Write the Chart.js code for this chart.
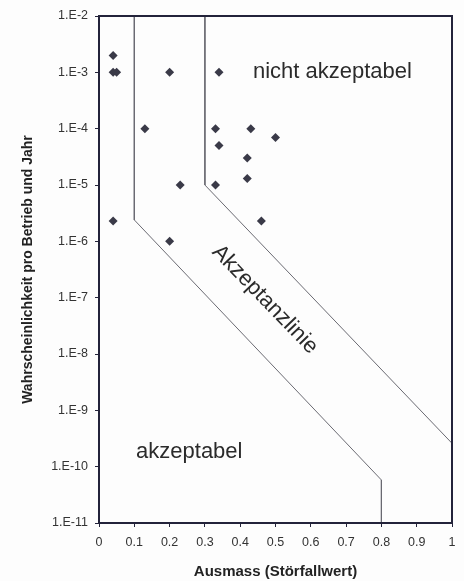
<!DOCTYPE html>
<html>
<head>
<meta charset="utf-8">
<script src="https://cdn.jsdelivr.net/npm/chart.js@4"></script>
<style>
  html, body { margin: 0; padding: 0; background: #fdfdfd; }
  #wrap { width: 464px; height: 581px; }
</style>
</head>
<body>
<div id="wrap"><canvas id="riskChart"></canvas></div>
<script>
// Störfälle: Ausmass vs. Wahrscheinlichkeit
const ausmass = [0.04, 0.04, 0.05, 0.2, 0.34, 0.13, 0.33, 0.43, 0.5, 0.34, 0.42, 0.42, 0.23, 0.33, 0.04, 0.46, 0.2];
const wahrscheinlichkeit = [2e-3, 1e-3, 1e-3, 1e-3, 1e-3, 1e-4, 1e-4, 1e-4, 7e-5, 5e-5, 3e-5, 1.3e-5, 1e-5, 1e-5, 2.3e-6, 2.3e-6, 1e-6];

// Akzeptanzlinien (untere und obere Grenze)
const linieUntenX = [0.1, 0.1, 0.8, 0.8];
const linieUntenY = [1e-2, 2.4e-6, 5.8e-11, 1e-11];
const linieObenX = [0.3, 0.3, 1.0];
const linieObenY = [1e-2, 1e-5, 2.6e-10];

const yExponents = [-2, -3, -4, -5, -6, -7, -8, -9, -10, -11];

const toPoints = (xs, ys) => xs.map((x, i) => ({ x: x, y: ys[i] }));

// Beschriftungen im Diagramm (in Datenkoordinaten)
const labelPlugin = {
    id: 'regionLabels',
    afterDatasetsDraw(chart) {
        const { ctx, scales: { x, y } } = chart;
        ctx.save();
        ctx.fillStyle = '#2b2b2b';
        ctx.font = '22px "Liberation Sans", Arial, sans-serif';
        ctx.textBaseline = 'middle';
        ctx.textAlign = 'left';
        ctx.fillText('nicht akzeptabel', x.getPixelForValue(0.436), y.getPixelForValue(1e-3));
        ctx.fillText('akzeptabel', x.getPixelForValue(0.105), y.getPixelForValue(1.8e-10));

        ctx.translate(x.getPixelForValue(0.47), y.getPixelForValue(9.3e-8));
        ctx.rotate(46 * Math.PI / 180);
        ctx.textAlign = 'center';
        ctx.fillText('Akzeptanzlinie', 0, 0);
        ctx.restore();

        // Rahmen um den Plotbereich
        const a = chart.chartArea;
        ctx.save();
        ctx.strokeStyle = '#23233a';
        ctx.lineWidth = 2;
        ctx.strokeRect(a.left, a.top, a.right - a.left, a.bottom - a.top);
        ctx.restore();
    }
};

const ctx = document.getElementById('riskChart');

new Chart(ctx, {
    type: 'scatter',
    data: {
        datasets: [
            {
                label: 'Störfälle',
                data: toPoints(ausmass, wahrscheinlichkeit),
                pointStyle: 'rectRot',
                pointRadius: 4.5,
                backgroundColor: '#3a3a48',
                borderColor: '#3a3a48',
                borderWidth: 0
            },
            {
                label: 'Akzeptanzlinie unten',
                data: toPoints(linieUntenX, linieUntenY),
                showLine: true,
                pointRadius: 0,
                borderColor: '#6a6a72',
                borderWidth: 1
            },
            {
                label: 'Akzeptanzlinie oben',
                data: toPoints(linieObenX, linieObenY),
                showLine: true,
                pointRadius: 0,
                borderColor: '#6a6a72',
                borderWidth: 1
            }
        ]
    },
    options: {
        responsive: true,
        maintainAspectRatio: false,
        animation: false,
        layout: {
            padding: { top: 16, right: 12, bottom: 0, left: 0 }
        },
        scales: {
            x: {
                type: 'linear',
                min: 0,
                max: 1,
                afterFit: (scale) => { scale.height = 58; },
                ticks: {
                    stepSize: 0.1,
                    padding: 8,
                    color: '#333',
                    font: { family: '"Liberation Sans", Arial, sans-serif', size: 12.5 },
                    callback: (v) => String(Number(v.toFixed(1)))
                },
                grid: { display: true, drawOnChartArea: false, drawTicks: true, tickLength: 4, color: '#23233a' },
                border: { display: true, color: '#23233a', width: 2 },
                title: {
                    display: true,
                    text: 'Ausmass (Störfallwert)',
                    color: '#222',
                    padding: { top: 0, bottom: 0 },
                    font: { family: '"Liberation Sans", Arial, sans-serif', size: 15, weight: 'bold' }
                }
            },
            y: {
                type: 'logarithmic',
                min: 1e-11,
                max: 1e-2,
                afterFit: (scale) => { scale.width = 99; },
                afterBuildTicks: (scale) => {
                    scale.ticks = yExponents.map(e => ({ value: Math.pow(10, e) }));
                },
                ticks: {
                    padding: 7,
                    color: '#333',
                    font: { family: '"Liberation Sans", Arial, sans-serif', size: 12.5 },
                    callback: (v) => '1.E' + Math.round(Math.log10(v))
                },
                grid: { display: true, drawOnChartArea: false, drawTicks: true, tickLength: 4, color: '#23233a' },
                border: { display: true, color: '#23233a', width: 2 },
                title: {
                    display: true,
                    text: 'Wahrscheinlichkeit pro Betrieb und Jahr',
                    color: '#222',
                    padding: { top: 20, bottom: 0 },
                    font: { family: '"Liberation Sans", Arial, sans-serif', size: 14, weight: 'bold' }
                }
            }
        },
        plugins: {
            legend: { display: false },
            tooltip: { enabled: false }
        }
    },
    plugins: [labelPlugin]
});
</script>
</body>
</html>
